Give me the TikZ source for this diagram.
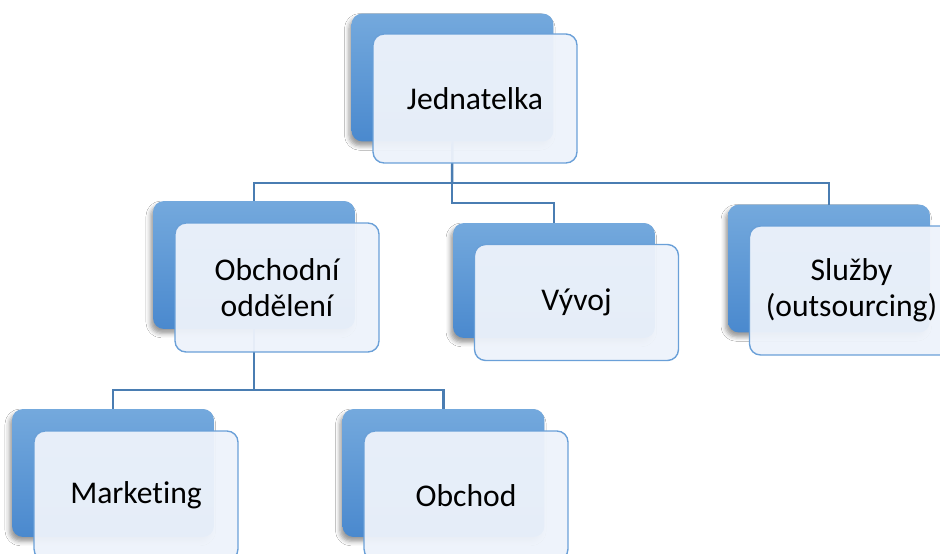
\documentclass[tikz,border=0pt]{standalone}
\usepackage{fontspec}
\setmainfont{Carlito}[Ligatures=NoCommon]
\usepackage{tikz}
\usetikzlibrary{positioning,calc}
\usetikzlibrary{shadows,shadows.blur}
\definecolor{boxtop}{HTML}{74A9DD}
\definecolor{boxbot}{HTML}{4A89CE}
\definecolor{frontfill}{HTML}{EEF3FB}
\definecolor{frontline}{HTML}{6AA0D8}
\definecolor{linkline}{HTML}{4A7DB2}
\tikzset{backbox/.style={rounded corners=0.22cm,inner sep=0,outer sep=0,minimum width=4.04cm,minimum height=2.56cm,top color=boxtop,bottom color=boxbot,blur shadow={shadow xshift=-1.5pt,shadow yshift=-2.5pt,shadow blur radius=2.5pt,shadow opacity=40}}}
\tikzset{frontbox/.style={rounded corners=0.22cm,inner sep=0,outer sep=0,minimum width=4.08cm,minimum height=2.58cm,draw=frontline,line width=0.8pt,fill=frontfill,fill opacity=0.95,text opacity=1,align=center,font=\fontsize{18}{20.5}\selectfont}}
\tikzset{link/.style={draw=linkline,line width=1.4pt}}

\begin{document}
\begin{tikzpicture}[x=0.02cm,y=-0.02cm]
  \useasboundingbox (0,0) rectangle (940,554);
  \fill[white] (0,0) rectangle (940,554);
  \clip (0,0) rectangle (940,554);
  % back boxes
  \node[backbox] (jedB) at (452.5,77.5) {};
  \node[backbox] (obchB) at (254,265) {};
  \node[backbox,minimum height=2.3cm] (vyvB) at (554,280.5) {};
  \node[backbox] (sluzB) at (829,268.5) {};
  \node[backbox] (markB) at (113,473) {};
  \node[backbox] (obcB) at (443.5,473) {};
  % connectors
  \draw[link] (jedB.south) -- (452,183) coordinate (t1);
  \draw[link] (obchB.north) |- (t1) -| (sluzB.north);
  \draw[link] (t1) -- (452,203) coordinate (t2) -| (vyvB.north);
  \draw[link] (obchB.south) -- (254,390) coordinate (t3);
  \draw[link] (markB.north) |- (t3) -| (obcB.north);
  % front boxes
  \node[frontbox] (jed) at (475,98.5) {Jednatelka};
  \node[frontbox] (obch) at (277,287.5) {Obchodní\\oddělení};
  \node[frontbox,minimum height=2.32cm] (vyv) at (576.5,302.5) {Vývoj};
  \node[frontbox] (sluz) at (851.5,290.5) {Služby\\(outsourcing)};
  \node[frontbox] (mark) at (136,495.5) {Marketing};
  \node[frontbox] (obc) at (466,495.5) {Obchod};
\end{tikzpicture}
\end{document}
